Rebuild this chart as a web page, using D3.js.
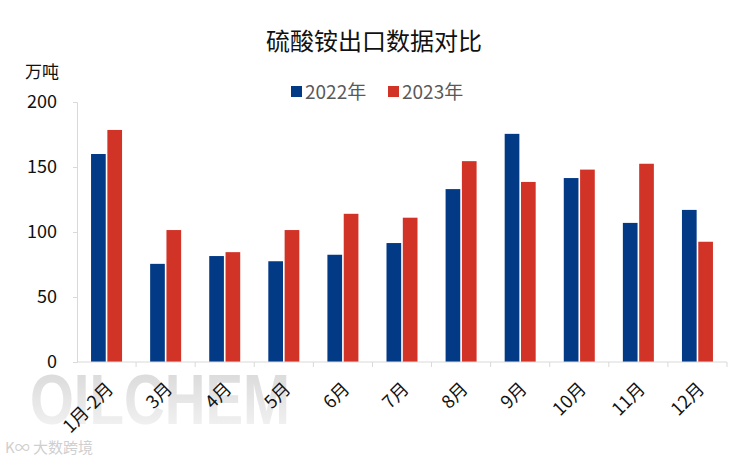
<!DOCTYPE html>
<html><head><meta charset="utf-8">
<script src="https://cdn.jsdelivr.net/npm/d3@7"></script>
<style>body{margin:0;background:#fff;font-family:"Noto Sans CJK SC","Noto Sans",sans-serif;}</style>
</head><body><svg id="c" width="750" height="460"></svg>
<script>
const categories = ["1月-2月","3月","4月","5月","6月","7月","8月","9月","10月","11月","12月"];
const series2022 = [160,75.5,81.5,77.5,82.5,91.5,133,175.5,141.5,107,117];
const series2023 = [178.5,101.5,84.5,101.5,114,111,154.5,138.5,148,152.5,92.5];
const seriesNames = ["2022年","2023年"];
const colors = ["#023a86","#d23327"];
const yTicks = [0,50,100,150,200];

const svg = d3.select("#c");
const m = {l:77, r:23, t:102, b:98};
const W = 750, H = 460;
const x = d3.scaleBand().domain(categories).range([m.l, W-m.r]).paddingInner(0).paddingOuter(0);
const y = d3.scaleLinear().domain([0,200]).range([H-m.b, m.t]);
const x1 = d3.scaleBand().domain([0,1]).range([0, 31]).paddingInner(0.1);

// watermark
const defs = svg.append("defs");
const gr = defs.append("linearGradient").attr("id","wm").attr("x1",0).attr("y1",0).attr("x2",0).attr("y2",1);
gr.append("stop").attr("offset","0%").attr("stop-color","#d6d6d6");
gr.append("stop").attr("offset","100%").attr("stop-color","#f6f6f6");
svg.append("text").attr("x",30).attr("y",424).attr("font-family","Liberation Sans, Arial, sans-serif")
  .attr("font-weight","bold").attr("font-size",70).attr("fill","url(#wm)").attr("textLength",260)
  .attr("lengthAdjust","spacingAndGlyphs").text("OILCHEM");
svg.append("text").attr("x",5).attr("y",453).attr("font-size",15).attr("fill","#cfcfcf").text("K∞ 大数跨境");

// title
svg.append("text").attr("x",374).attr("y",50).attr("text-anchor","middle").attr("font-size",24).attr("fill","#111").text("硫酸铵出口数据对比");
// unit
svg.append("text").attr("x",25).attr("y",78).attr("font-size",17).attr("fill","#111").text("万吨");

// legend
const lg = svg.append("g");
const lx = [291, 388];
seriesNames.forEach((n,i)=>{
  lg.append("rect").attr("x",lx[i]).attr("y",86).attr("width",11).attr("height",11).attr("fill",colors[i]);
  lg.append("text").attr("x",lx[i]+14).attr("y",99).attr("font-size",19).attr("fill","#595959").text(n);
});

// y axis
const ya = svg.append("g").attr("transform",`translate(${m.l},0)`)
  .call(d3.axisLeft(y).tickValues(yTicks).tickSize(4).tickPadding(16));
ya.select(".domain").attr("stroke","#d9d9d9");
ya.selectAll(".tick line").attr("stroke","#d9d9d9");
ya.selectAll(".tick text").attr("font-size",18).attr("fill","#111").attr("font-family","Noto Sans CJK SC, sans-serif");

// bars
const g = svg.append("g");
categories.forEach((c,i)=>{
  const cx = x(c) + x.bandwidth()/2 - 15.5;
  [series2022[i], series2023[i]].forEach((v,k)=>{
    g.append("rect").attr("x",cx + x1(k)).attr("y",y(v)).attr("width",x1.bandwidth())
     .attr("height",y(0)-y(v)).attr("fill",colors[k]);
  });
});

// x axis
const xa = svg.append("g").attr("transform",`translate(0,${y(0)})`);
xa.append("line").attr("x1",m.l).attr("x2",W-m.r).attr("stroke","#d9d9d9");
categories.forEach((c,i)=>{
  xa.append("line").attr("x1",x(c)+x.bandwidth()).attr("x2",x(c)+x.bandwidth()).attr("y1",0).attr("y2",5).attr("stroke","#d9d9d9");
  const tx = x(c)+x.bandwidth()/2 - 1;
  xa.append("text").attr("transform",`translate(${tx},19) rotate(-45)`).attr("text-anchor","end")
    .attr("dy","0.7em").attr("font-size",18).attr("fill","#111").text(c);
});
</script></body></html>
